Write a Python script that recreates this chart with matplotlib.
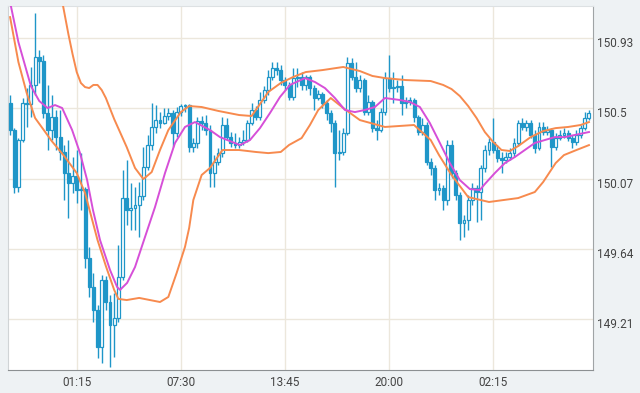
import matplotlib.pyplot as plt
import matplotlib.transforms as mtransforms
import numpy as np

plt.rcParams['font.family'] = ['Roboto', 'DejaVu Sans']

# 15分足, 21:15 始まり
time_labels = ['01:15', '07:30', '13:45', '20:00', '02:15']
label_index = [16, 41, 66, 91, 116]
price_ticks = [149.21, 149.64, 150.07, 150.5, 150.93]
price_labels = ['149.21', '149.64', '150.07', '150.5', '150.93']

first_open = 150.532
closes = [150.367, 150.018, 150.306, 150.533, 150.527, 150.643, 150.814, 150.789, 150.471, 150.367,
          150.447, 150.324, 150.232, 150.104, 150.043, 150.086, 150.000, 150.006, 149.584, 149.407,
          149.266, 149.040, 149.450, 149.315, 149.175, 149.217, 149.468, 149.951, 149.878, 149.890,
          149.908, 149.963, 150.141, 150.276, 150.386, 150.428, 150.410, 150.453, 150.471, 150.349,
          150.477, 150.514, 150.518, 150.263, 150.288, 150.422, 150.410, 150.367, 150.104, 150.171,
          150.226, 150.398, 150.324, 150.288, 150.276, 150.294, 150.306, 150.410, 150.490, 150.447,
          150.551, 150.612, 150.692, 150.746, 150.734, 150.673, 150.643, 150.569, 150.685, 150.692,
          150.643, 150.692, 150.624, 150.563, 150.587, 150.533, 150.471, 150.410, 150.226, 150.232,
          150.349, 150.777, 150.692, 150.624, 150.673, 150.477, 150.539, 150.379, 150.367, 150.477,
          150.685, 150.624, 150.630, 150.636, 150.533, 150.539, 150.551, 150.447, 150.355, 150.398,
          150.171, 150.135, 150.000, 150.012, 149.939, 150.276, 150.104, 149.970, 149.799, 149.817,
          149.939, 150.012, 149.988, 150.135, 150.245, 150.294, 150.245, 150.196, 150.184, 150.202,
          150.226, 150.288, 150.410, 150.386, 150.410, 150.336, 150.257, 150.386, 150.355, 150.367,
          150.263, 150.318, 150.336, 150.349, 150.318, 150.294, 150.336, 150.379, 150.441, 150.471]
highs = [150.581, 150.379, 150.318, 150.563, 150.624, 150.752, 151.083, 150.857, 150.826, 150.643,
         150.581, 150.490, 150.490, 150.276, 150.306, 150.202, 150.245, 150.226, 150.018, 149.652,
         149.493, 149.297, 149.480, 149.474, 149.358, 149.370, 149.664, 150.123, 150.184, 150.043,
         150.018, 150.049, 150.263, 150.337, 150.533, 150.520, 150.477, 150.502, 150.502, 150.490,
         150.508, 150.527, 150.527, 150.527, 150.318, 150.447, 150.453, 150.459, 150.398, 150.214,
         150.257, 150.447, 150.441, 150.355, 150.349, 150.324, 150.367, 150.428, 150.533, 150.514,
         150.600, 150.636, 150.734, 150.783, 150.783, 150.765, 150.692, 150.661, 150.746, 150.746,
         150.722, 150.704, 150.704, 150.643, 150.612, 150.600, 150.551, 150.490, 150.428, 150.367,
         150.379, 150.814, 150.808, 150.783, 150.704, 150.685, 150.581, 150.551, 150.428, 150.502,
         150.722, 150.826, 150.722, 150.673, 150.704, 150.569, 150.569, 150.563, 150.459, 150.441,
         150.416, 150.196, 150.153, 150.043, 150.031, 150.306, 150.306, 150.123, 149.988, 149.847,
         149.970, 150.043, 150.031, 150.153, 150.276, 150.318, 150.441, 150.276, 150.233, 150.233,
         150.257, 150.318, 150.428, 150.441, 150.428, 150.428, 150.367, 150.416, 150.416, 150.392,
         150.379, 150.349, 150.367, 150.379, 150.367, 150.337, 150.367, 150.398, 150.477, 150.490]
lows = [150.337, 149.982, 149.988, 150.294, 150.386, 150.447, 150.581, 150.655, 150.441, 150.245,
        150.306, 150.245, 150.184, 149.939, 149.829, 149.982, 149.920, 149.878, 149.523, 149.346,
        149.193, 148.973, 148.942, 149.266, 148.918, 148.979, 149.193, 149.450, 149.786, 149.756,
        149.756, 149.713, 149.939, 150.123, 150.245, 150.349, 150.379, 150.404, 150.428, 150.263,
        150.324, 150.453, 150.477, 150.233, 150.233, 150.257, 150.367, 150.337, 150.018, 150.018,
        150.153, 150.202, 150.306, 150.263, 150.257, 150.257, 150.276, 150.294, 150.398, 150.428,
        150.428, 150.533, 150.581, 150.673, 150.704, 150.643, 150.612, 150.551, 150.551, 150.630,
        150.612, 150.612, 150.581, 150.490, 150.551, 150.502, 150.428, 150.355, 150.018, 150.184,
        150.214, 150.337, 150.673, 150.600, 150.600, 150.459, 150.459, 150.355, 150.306, 150.355,
        150.459, 150.600, 150.533, 150.600, 150.459, 150.502, 150.520, 150.416, 150.337, 150.337,
        150.153, 150.092, 149.939, 149.970, 149.878, 149.908, 150.074, 149.939, 149.694, 149.713,
        149.756, 149.908, 149.804, 149.817, 150.110, 150.214, 150.226, 150.171, 150.104, 150.165,
        150.184, 150.202, 150.269, 150.367, 150.361, 150.318, 150.226, 150.245, 150.337, 150.337,
        150.141, 150.245, 150.306, 150.318, 150.300, 150.257, 150.276, 150.318, 150.367, 150.428]

# 移動平均 (マゼンタ)
ma_x = [0, 2, 5, 7, 9, 10.8, 12.5, 14.9, 16.8, 18.5, 19.9, 21.6, 24, 25.7, 26.4, 28.1, 30, 32.4,
        34.8, 37.2, 39.6, 42, 44.4, 48, 50.4, 55.2, 57.6, 60, 62.4, 64.8, 67.2, 70.8, 73.2, 75.6,
        78, 80.4, 82.8, 85.2, 87.6, 90, 93.6, 96, 98.4, 100.8, 103.2, 105.6, 108, 110.4, 112.8,
        114, 116.4, 118.8, 121.2, 123.6, 126, 128.4, 130.8, 133.2, 135.6, 139]
ma_y = [151.150, 150.905, 150.636, 150.545, 150.502, 150.520, 150.502, 150.367, 150.226, 150.061,
        149.878, 149.694, 149.511, 149.407, 149.389, 149.432, 149.529, 149.713, 149.896, 150.104,
        150.288, 150.386, 150.416, 150.367, 150.324, 150.275, 150.306, 150.379, 150.471, 150.569,
        150.643, 150.685, 150.661, 150.624, 150.563, 150.490, 150.477, 150.490, 150.508, 150.563,
        150.551, 150.539, 150.508, 150.410, 150.288, 150.165, 150.061, 150.006, 150.000, 150.037,
        150.104, 150.165, 150.202, 150.245, 150.288, 150.306, 150.324, 150.324, 150.337, 150.355]

# ボリンジャーバンド (オレンジ)
upper_x = [12, 13, 14, 15, 16, 17, 18, 19, 20, 21, 22, 23, 25, 28, 30, 32, 34, 36, 38, 41, 43,
           46, 50, 55, 58, 60, 62, 65, 68, 71, 75, 80, 84, 87, 90, 95, 101, 104, 106, 108, 110,
           112, 114, 116, 118, 120, 122, 125, 128, 131, 134, 137, 139]
upper_y = [151.223, 151.089, 150.954, 150.832, 150.722, 150.655, 150.630, 150.624, 150.643, 150.643,
           150.612, 150.563, 150.434, 150.263, 150.135, 150.067, 150.110, 150.245, 150.367, 150.477,
           150.514, 150.508, 150.484, 150.459, 150.453, 150.526, 150.600, 150.655, 150.692, 150.722,
           150.734, 150.753, 150.728, 150.698, 150.685, 150.673, 150.667, 150.643, 150.618, 150.575,
           150.514, 150.441, 150.355, 150.294, 150.245, 150.239, 150.269, 150.324, 150.361, 150.379,
           150.386, 150.398, 150.416]
lower_x = [0, 2, 4, 6, 10, 13, 16, 18, 21, 23, 25, 26, 28, 31, 36, 38, 40, 42, 43, 44, 46, 48,
           51, 55, 59, 62, 65, 67, 70, 72, 74, 77, 80, 84, 90, 97, 101, 103, 106, 110, 115, 122,
           126, 128, 131, 133, 136, 139]
lower_y = [151.058, 150.783, 150.593, 150.441, 150.300, 150.208, 150.104, 149.982, 149.694, 149.535,
           149.389, 149.334, 149.327, 149.340, 149.315, 149.346, 149.493, 149.652, 149.768, 149.939,
           150.092, 150.135, 150.245, 150.245, 150.233, 150.226, 150.233, 150.276, 150.318, 150.398,
           150.490, 150.563, 150.502, 150.428, 150.386, 150.398, 150.306, 150.214, 150.092, 149.957,
           149.927, 149.951, 149.988, 150.049, 150.165, 150.214, 150.245, 150.275]

blue = '#1f96c8'
orange = '#f78a4e'
magenta = '#d64fd8'

fig = plt.figure(figsize=(6.4, 3.93), dpi=100, facecolor='#eef2f4')
ax = fig.add_axes([0.0125, 0.0585, 0.9136, 0.9262])
ax.set_facecolor('white')

closes = np.array(closes)
opens = np.concatenate([[first_open], closes[:-1]])
idx = np.arange(len(closes))
up = closes >= opens

ax.vlines(idx, lows, highs, color=blue, linewidth=1.0, zorder=2)
bottoms = np.minimum(opens, closes)
heights = np.maximum(np.abs(closes - opens), 0.004)
ax.bar(idx[up], heights[up], bottom=bottoms[up], width=0.7,
       facecolor='white', edgecolor=blue, linewidth=0.9, zorder=3)
ax.bar(idx[~up], heights[~up], bottom=bottoms[~up], width=0.7,
       facecolor=blue, edgecolor=blue, linewidth=0.9, zorder=3)

ax.plot(upper_x, upper_y, color=orange, linewidth=1.4, zorder=4)
ax.plot(lower_x, lower_y, color=orange, linewidth=1.4, zorder=4)
ax.plot(ma_x, ma_y, color=magenta, linewidth=1.4, zorder=4)

ax.set_xlim(-0.5, 139.9)
ax.set_ylim(148.899, 151.126)

ax.set_xticks(label_index)
ax.set_xticklabels(time_labels)
ax.set_yticks(price_ticks)
ax.set_yticklabels(price_labels)
ax.yaxis.tick_right()
ax.tick_params(axis='both', length=0, labelsize=8.5, labelcolor='#444444')
ax.tick_params(axis='x', pad=4)
ax.tick_params(axis='y', pad=3)
offset = mtransforms.ScaledTranslation(0, -4 / 100, fig.dpi_scale_trans)
for lab in ax.get_yticklabels():
    lab.set_transform(lab.get_transform() + offset)

ax.grid(True, color='#ece7dc', linewidth=1.0, zorder=0)
ax.set_axisbelow(True)

ax.spines['top'].set_color('#dde1e3')
ax.spines['left'].set_color('#d0d4d6')
ax.spines['right'].set_color('#a0a4a6')
ax.spines['bottom'].set_color('#8c9092')

fig.savefig('out.png', dpi=100, facecolor=fig.get_facecolor())
